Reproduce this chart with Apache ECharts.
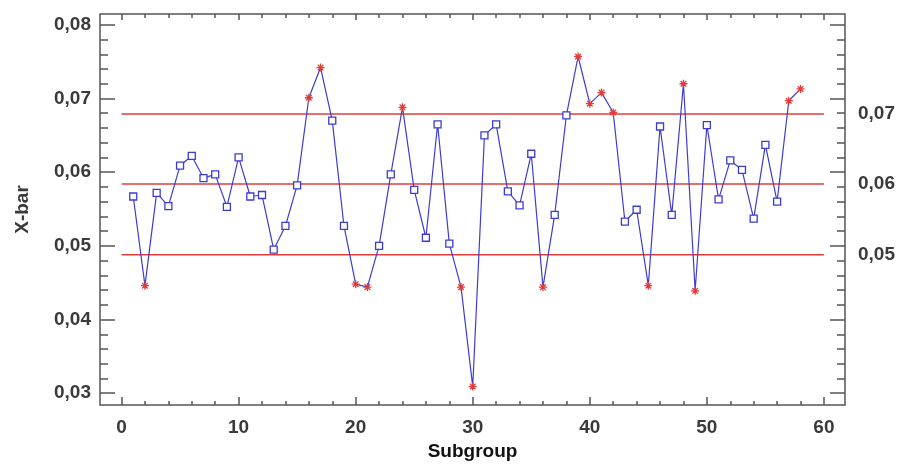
<!DOCTYPE html>
<html>
<head>
<meta charset="utf-8">
<script src="https://cdn.jsdelivr.net/npm/echarts@6/dist/echarts.min.js"></script>
<style>html,body{margin:0;padding:0;background:#fff}#c{width:900px;height:466px}</style>
</head>
<body>
<div id="c"></div>
<script>
const subgroups = [1,2,3,4,5,6,7,8,9,10,11,12,13,14,15,16,17,18,19,20,21,22,23,24,25,26,27,28,29,30,31,32,33,34,35,36,37,38,39,40,41,42,43,44,45,46,47,48,49,50,51,52,53,54,55,56,57,58];
const xBar = [0.0567,0.0446,0.0572,0.0554,0.0609,0.0622,0.0592,0.0597,0.0553,0.0620,
              0.0567,0.0569,0.0495,0.0527,0.0582,0.0701,0.0742,0.0670,0.0527,0.0448,
              0.0444,0.0500,0.0597,0.0688,0.0576,0.0511,0.0665,0.0503,0.0444,0.0309,
              0.0650,0.0665,0.0574,0.0555,0.0625,0.0444,0.0542,0.0677,0.0757,0.0693,
              0.0708,0.0681,0.0533,0.0549,0.0446,0.0662,0.0542,0.0720,0.0439,0.0664,
              0.0563,0.0616,0.0603,0.0537,0.0637,0.0560,0.0697,0.0713];
const UCL = 0.0679, CL = 0.0584, LCL = 0.0488;
const limitSpan = [0, 60];
const yTicks = [0.03,0.04,0.05,0.06,0.07,0.08];
const xTicks = [0,10,20,30,40,50,60];

const yMinor = []; for (let i = 15; i <= 40; i++) yMinor.push(+(i*0.002).toFixed(3));
const xMinor = []; for (let i = 0; i <= 30; i++) xMinor.push(i*2);

const fmt = v => v.toFixed(2).replace('.', ',');
const FONT = '"Liberation Sans", Arial, sans-serif';
const TICKC = '#555';
const BLUE = '#3c3cd2';
const RED = '#e03c3c';
const STAR = 'path://M5,0L5,10M0,5L10,5M1.5,1.5L8.5,8.5M1.5,8.5L8.5,1.5';

const X0 = -1.84, X1 = 61.8, Y0 = 0.0284, Y1 = 0.08147;

function xAx(pos, ticks, len, labels) {
  return {
    type: 'value', position: pos, min: X0, max: X1,
    axisLine: {show: false, onZero: false}, splitLine: {show: false},
    axisTick: {show: true, inside: true, length: len, customValues: ticks, lineStyle: {color: TICKC, width: 1.5}},
    axisLabel: labels ? {show: true, customValues: xTicks, margin: 13, fontFamily: FONT, fontWeight: 'bold', fontSize: 19, color: '#3a3a3a'} : {show: false}
  };
}
function yAx(pos, ticks, len, labelCfg) {
  return {
    type: 'value', position: pos, min: Y0, max: Y1,
    axisLine: {show: false, onZero: false}, splitLine: {show: false},
    axisTick: {show: true, inside: true, length: len, customValues: ticks, lineStyle: {color: TICKC, width: 1.5}},
    axisLabel: labelCfg || {show: false}
  };
}

const pointData = subgroups.map((s, i) => {
  const v = xBar[i];
  const out = v > UCL || v < LCL;
  return out ? {
    value: [s, v], symbol: STAR, symbolSize: 8,
    itemStyle: {color: 'rgba(0,0,0,0)', borderColor: RED, borderWidth: 1.3}
  } : {
    value: [s, v], symbol: 'rect', symbolSize: 7,
    itemStyle: {color: '#fff', borderColor: BLUE, borderWidth: 1.3}
  };
});

function limitSeries(v) {
  return {
    type: 'line', xAxisIndex: 0, yAxisIndex: 0, silent: true, symbol: 'none',
    data: limitSpan.map(x => [x, v]),
    lineStyle: {color: RED, width: 1.5}, z: 1
  };
}

const yMain = yAx('left', yTicks, 15, {show: true, customValues: yTicks, margin: 9, formatter: fmt, fontFamily: FONT, fontWeight: 'bold', fontSize: 19, color: '#3a3a3a'});
yMain.name = 'X-bar';
yMain.nameLocation = 'middle';
yMain.nameGap = 68;
yMain.nameTextStyle = {fontFamily: FONT, fontWeight: 'bold', fontSize: 19, color: '#3a3a3a'};

const xMain = xAx('bottom', xTicks, 8, true);
xMain.name = 'Subgroup';
xMain.nameLocation = 'middle';
xMain.nameGap = 37;
xMain.nameTextStyle = {fontFamily: FONT, fontWeight: 'bold', fontSize: 19, color: '#111'};

const option = {
  animation: false,
  backgroundColor: '#fff',
  grid: {left: 100, top: 14, right: 55, bottom: 56, show: true, borderColor: '#555', borderWidth: 1.5, backgroundColor: 'transparent'},
  xAxis: [
    xMain,
    xAx('bottom', xMinor, 4, false),
    xAx('top', xTicks, 6, false),
    xAx('top', xMinor, 4, false)
  ],
  yAxis: [
    yMain,
    yAx('left', yMinor, 8),
    yAx('right', yTicks, 15, {show: true, customValues: [LCL, CL, UCL], margin: 13, formatter: fmt, fontFamily: FONT, fontWeight: 'bold', fontSize: 19, color: '#3a3a3a'}),
    yAx('right', yMinor, 8)
  ],
  series: [
    limitSeries(UCL), limitSeries(CL), limitSeries(LCL),
    {
      type: 'line', xAxisIndex: 0, yAxisIndex: 0,
      data: pointData, showAllSymbol: true,
      lineStyle: {color: BLUE, width: 1.2},
      z: 5
    }
  ]
};
echarts.init(document.getElementById('c'), null, {renderer: 'canvas'}).setOption(option);
</script>
</body>
</html>
